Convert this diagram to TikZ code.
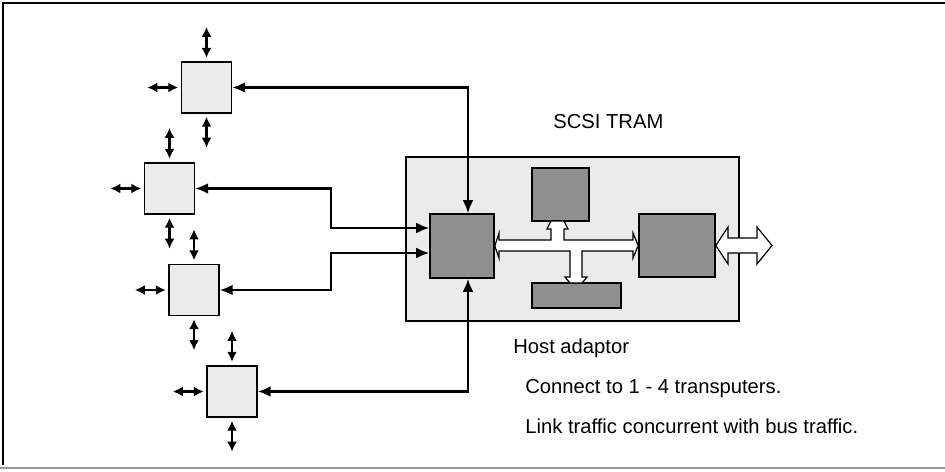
\documentclass[tikz,border=0pt]{standalone}
\usepackage{fontspec}
\setmainfont{Liberation Sans}
\usetikzlibrary{arrows.meta}
\definecolor{lightfill}{gray}{0.92}
\definecolor{darkfill}{gray}{0.56}

\begin{document}
\begin{tikzpicture}[
  x=0.02cm, y=-0.02cm,
  host/.style={draw, line width=0.7pt, fill=lightfill, inner sep=0pt},
  tbox/.style={draw, line width=0.8pt, fill=lightfill, minimum width=1cm, minimum height=1.02cm, inner sep=0pt},
  chip/.style={draw, line width=0.9pt, fill=darkfill, inner sep=0pt},
  stub/.style={{Latex[length=0.2cm,width=0.2cm]}-{Latex[length=0.2cm,width=0.2cm]}, line width=1.3pt},
  link/.style={{Latex[length=0.26cm,width=0.22cm]}-{Latex[length=0.26cm,width=0.22cm]}, line width=1.4pt},
  bus/.style={draw, line width=0.7pt, fill=white},
  txt/.style={anchor=base west, inner sep=0pt, font=\fontsize{11.5}{14}\selectfont}
]
  \useasboundingbox (0,0) rectangle (945,471);
  \draw[line width=1.2pt] (945,3) -- (3,3) -- (3,465);
  \draw[line width=0.8pt, black!40] (0,468) -- (945,468);

  \node[host, minimum width=6.66cm, minimum height=3.28cm] (adaptor) at (572.5,239) {};
  \node[chip, minimum width=1.28cm, minimum height=1.28cm] (link) at (462,246) {};
  \node[chip, minimum width=1.14cm, minimum height=1.06cm] (mem) at (560.5,194.5) {};
  \node[chip, minimum width=1.78cm, minimum height=0.5cm] (ctrl) at (576.5,295.5) {};
  \node[chip, minimum width=1.52cm, minimum height=1.26cm] (scsi) at (677,245.5) {};

  \node[tbox] (tp1) at (206.5,87.5) {};
  \node[tbox] (tp2) at (169.5,188.5) {};
  \node[tbox] (tp3) at (194,290) {};
  \node[tbox] (tp4) at (232,391.5) {};

  \foreach \t in {tp1,tp2,tp3,tp4} {
    \draw[stub] ([yshift=0.07cm]\t.north) -- ++(0,-31);
    \draw[stub] ([yshift=-0.06cm]\t.south) -- ++(0,31);
    \draw[stub] ([xshift=-0.05cm]\t.west) -- ++(-31,0);
  }

  \draw[bus] (link.east) -- (499,233) -- (499,240) -- (551,240) -- (551,229) -- (547,229)
    -- (551,221) -- (564,221) -- (568,229) -- (564,229) -- (564,240) -- (633,240)
    -- (633,233) -- (scsi.west) -- (633,258) -- (633,251) -- (582,251) -- (582,277)
    -- (587,277) -- (582,283) -- (570,283) -- (565,277) -- (570,277) -- (570,251)
    -- (499,251) -- (499,258) -- cycle;
  \draw[bus] (scsi.east) -- (728,227) -- (728,238) -- (757,238) -- (757,227) -- (772,245.5)
    -- (757,264) -- (757,253) -- (728,253) -- (728,264) -- cycle;

  \draw[link] (tp1.east) -| ([xshift=0.12cm]link.north);
  \draw[link] (tp2.east) -- (331,188.5) |- ([yshift=0.36cm]link.west);
  \draw[link] (tp3.east) -- (331,290) |- ([yshift=-0.14cm]link.west);
  \draw[link] (tp4.east) -| ([xshift=0.12cm]link.south);

  \node[txt] (title) at (553,128) {SCSI TRAM};
  \node[txt] (hostlbl) at (513,353) {Host adaptor};
  \node[txt] (note1) at (525,393) {Connect to 1 - 4 transputers.};
  \node[txt] (note2) at (525,433) {Link traffic concurrent with bus traffic.};
\end{tikzpicture}
\end{document}
